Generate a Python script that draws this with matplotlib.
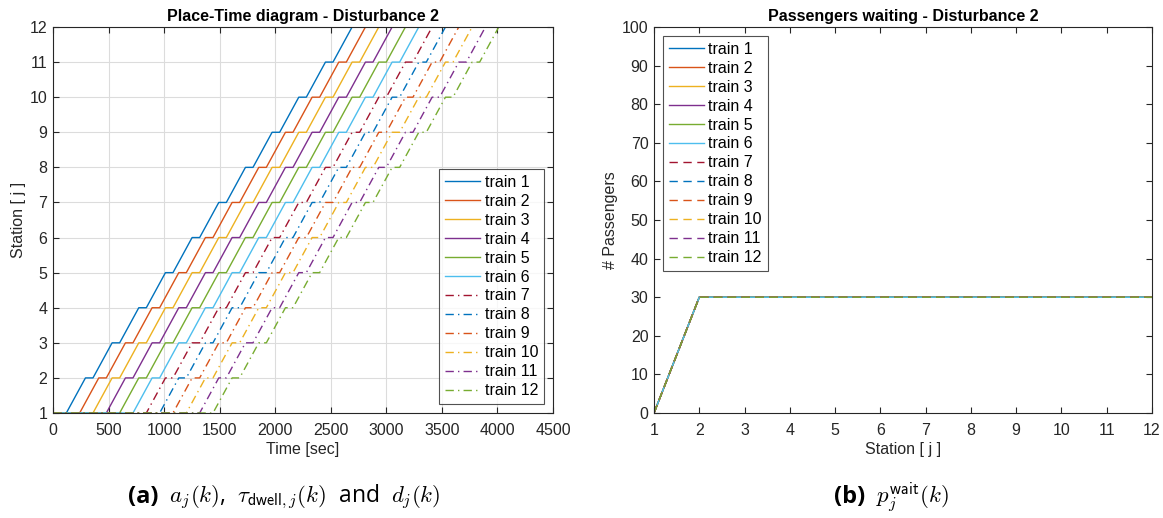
import matplotlib
matplotlib.use("Agg")
import matplotlib.pyplot as plt
import numpy as np

plt.rcParams['font.family'] = ['Liberation Sans', 'DejaVu Sans']
plt.rcParams['mathtext.fontset'] = 'cm'

# ---------------- data ----------------
train_names = ["train %d" % i for i in range(1, 13)]
colors = ["#0072BD", "#D95319", "#EDB120", "#7E2F8E", "#77AC30", "#4DBEEE",
          "#A2142F", "#0072BD", "#D95319", "#EDB120", "#7E2F8E", "#77AC30"]

stations = [1, 2, 3, 4, 5, 6, 7, 8, 9, 10, 11, 12]
# departure time of each train from station 1 [sec]
first_departure = [120, 240, 360, 480, 600, 720, 840, 960, 1080, 1200, 1320, 1440]
# arrival / departure time at stations 2..12 relative to departure from station 1 [sec]
arrival_offset = [172, 412, 652, 892, 1132, 1372, 1612, 1852, 2092, 2332, 2572]
departure_offset = [240, 480, 720, 960, 1200, 1440, 1680, 1920, 2160, 2400, 2640]

# passengers waiting at each station (identical for all trains)
passengers_waiting = [0, 30, 30, 30, 30, 30, 30, 30, 30, 30, 30, 30]

# ---------------- figure ----------------
fig = plt.figure(figsize=(11.63, 5.18), dpi=100)
axc = "#262626"
fs = 11.5

def style(ax):
    for s in ax.spines.values():
        s.set_color(axc)
        s.set_linewidth(0.8)
    ax.tick_params(direction='in', top=True, right=True, colors=axc,
                   labelsize=fs, length=4, width=0.8)
    ax.tick_params(axis='x', pad=7)
    ax.tick_params(axis='y', pad=4)

leg_kw = dict(fontsize=fs, frameon=True, fancybox=False, edgecolor=axc,
              borderaxespad=0.56, handlelength=2.2, labelspacing=0.25,
              borderpad=0.35, handletextpad=0.3)

# ---- (a) place-time diagram ----
ax1 = fig.add_axes([53/1163, 1-413/518, 500/1163, 386/518])
for k in range(12):
    t = [0, first_departure[k]]
    y = [1, 1]
    for j in range(11):
        t += [first_departure[k] + arrival_offset[j], first_departure[k] + departure_offset[j]]
        y += [stations[j+1], stations[j+1]]
    ls = '-' if k < 6 else (0, (6, 3, 1, 3))
    ax1.plot(t, y, linestyle=ls, color=colors[k], lw=1.0, label=train_names[k])
ax1.set_xlim(0, 4500)
ax1.set_ylim(1, 12)
ax1.set_xticks(np.arange(0, 4501, 500))
ax1.set_yticks(np.arange(1, 13, 1))
ax1.grid(True, color='#dcdcdc', lw=0.8)
ax1.set_axisbelow(True)
style(ax1)
ax1.set_xlabel("Time [sec]", fontsize=fs, color=axc, labelpad=3)
ax1.set_ylabel("Station [ j ]", fontsize=fs, color=axc, labelpad=3)
ax1.set_title("Place-Time diagram - Disturbance 2", fontsize=fs, fontweight='bold', pad=4)
leg1 = ax1.legend(loc='lower right', **leg_kw)
leg1.get_frame().set_linewidth(0.8)

# ---- (b) passengers waiting ----
ax2 = fig.add_axes([654/1163, 1-413/518, 498/1163, 386/518])
for k in range(12):
    ls = '-' if k < 6 else (0, (6, 4))
    ax2.plot(stations, passengers_waiting, linestyle=ls, color=colors[k], lw=1.0,
             label=train_names[k])
ax2.set_xlim(1, 12)
ax2.set_ylim(0, 100)
ax2.set_xticks(np.arange(1, 13, 1))
ax2.set_yticks(np.arange(0, 101, 10))
style(ax2)
ax2.set_xlabel("Station [ j ]", fontsize=fs, color=axc, labelpad=3)
ax2.set_ylabel("# Passengers", fontsize=fs, color=axc, labelpad=3)
ax2.set_title("Passengers waiting - Disturbance 2", fontsize=fs, fontweight='bold', pad=4)
leg2 = ax2.legend(loc='upper left', **leg_kw)
leg2.get_frame().set_linewidth(0.8)

# ---- captions ----
cap_family = ['Open Sans', 'DejaVu Sans']
ca = fig.text(128/1163, 1-497/518, "(a)", fontsize=17, fontweight='bold',
              va='center', ha='left', family=cap_family)
ax1.annotate(r"  $a_j(k)$,  $\tau_{\mathsf{dwell},j}(k)$  and  $d_j(k)$", xy=(1, 0.5),
             xycoords=ca, va='center', ha='left', fontsize=16.5,
             family=cap_family, annotation_clip=False)
cb = fig.text(834/1163, 1-497/518, "(b)", fontsize=17, fontweight='bold',
              va='center', ha='left', family=cap_family)
ax2.annotate(r"  $p_j^{\mathsf{wait}}(k)$", xy=(1, 0.5), xycoords=cb,
             va='center', ha='left', fontsize=16.5,
             family=cap_family, annotation_clip=False)

fig.savefig("out.png", dpi=100)
